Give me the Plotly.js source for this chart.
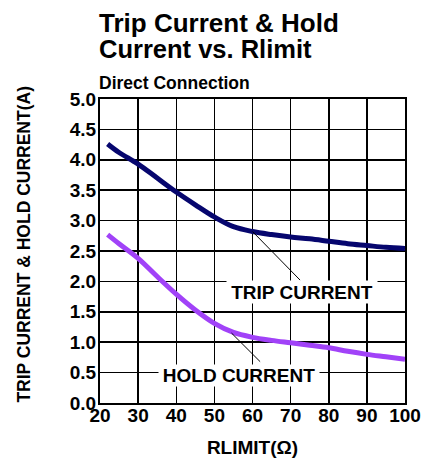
<!DOCTYPE html>
<html><head><meta charset="utf-8">
<script src="https://cdn.plot.ly/plotly-3.0.1.min.js"></script>
<style>body{margin:0;background:#fff}#c{width:422px;height:458px}</style>
</head><body><div id="c"></div>
<script>
const rlimit = [22, 25, 30, 35, 40, 45, 50, 55, 60, 65, 70, 75, 80, 85, 90, 95, 100];
const tripCurrent = [4.26, 4.12, 3.93, 3.70, 3.47, 3.26, 3.06, 2.90, 2.82, 2.77, 2.73, 2.70, 2.66, 2.62, 2.59, 2.56, 2.54];
const holdRlimit = [22, 25, 30, 35, 40, 45, 50, 55, 60, 65, 70, 75, 80, 85, 90, 95, 100];
const holdCurrent = [2.77, 2.62, 2.38, 2.08, 1.79, 1.53, 1.31, 1.16, 1.08, 1.03, 0.99, 0.95, 0.91, 0.85, 0.80, 0.76, 0.72];
const xTicks = [20, 30, 40, 50, 60, 70, 80, 90, 100];
const yTicks = [0.0, 0.5, 1.0, 1.5, 2.0, 2.5, 3.0, 3.5, 4.0, 4.5, 5.0];

const F = "Arial, 'Liberation Sans', sans-serif";
const bold = (s) => ({family: F, size: s, color: '#000', weight: 'bold'});
const traces = [
  {x: rlimit, y: tripCurrent, mode: 'lines', line: {color: '#06066e', width: 5, shape: 'spline'}, name: 'TRIP CURRENT'},
  {x: holdRlimit, y: holdCurrent, mode: 'lines', line: {color: '#a142f8', width: 5, shape: 'spline'}, name: 'HOLD CURRENT'}
];
const axisCommon = {
  showline: true, linecolor: '#000', linewidth: 2, mirror: true,
  showgrid: true, gridcolor: '#000', gridwidth: 1.5, zeroline: false,
  ticks: '', tickfont: bold(19)
};
const layout = {
  width: 422, height: 458,
  margin: {l: 100, r: 17, t: 99, b: 55},
  paper_bgcolor: '#fff', plot_bgcolor: '#fff',
  showlegend: false,
  xaxis: Object.assign({}, axisCommon, {range: [20, 100], tickvals: xTicks, ticktext: xTicks.map(String),
          ticklabelstandoff: -6,
          title: {text: 'RLIMIT(Ω)', font: bold(19), standoff: 17}}),
  yaxis: Object.assign({}, axisCommon, {range: [0, 5], tickvals: yTicks, ticktext: yTicks.map(v => v.toFixed(1)),
          ticklabelstandoff: -2}),
  shapes: [
    {type: 'line', xref: 'x', yref: 'y', x0: 60, y0: 2.82, x1: 72.5, y1: 2.02, line: {color: '#000', width: 1}},
    {type: 'line', xref: 'x', yref: 'y', x0: 54.5, y0: 1.15, x1: 62, y1: 0.68, line: {color: '#000', width: 1}}
  ],
  annotations: [
    {text: 'Trip Current & Hold', xref: 'paper', yref: 'paper', x: 0, y: 1.249, xanchor: 'left', yanchor: 'middle',
     xshift: -3, showarrow: false, font: bold(26)},
    {text: 'Current vs. Rlimit', xref: 'paper', yref: 'paper', x: 0, y: 1.164, xanchor: 'left', yanchor: 'middle',
     xshift: -3, showarrow: false, font: bold(25.5)},
    {text: 'Direct Connection', xref: 'paper', yref: 'paper', x: 0, y: 1.052, xanchor: 'left', yanchor: 'middle',
     xshift: -3, showarrow: false, font: bold(17.5)},
    {text: 'TRIP CURRENT & HOLD CURRENT(A)', xref: 'paper', yref: 'paper', x: 0, y: 0.521, xanchor: 'center', yanchor: 'middle',
     xshift: -76, textangle: -90, showarrow: false, font: bold(17.5)},
    {text: 'TRIP CURRENT', xref: 'x', yref: 'y', x: 73.1, y: 1.83, showarrow: false, bgcolor: '#fff', borderpad: 0,
     width: 150, height: 22, font: bold(19)},
    {text: 'HOLD CURRENT', xref: 'x', yref: 'y', x: 56.5, y: 0.45, showarrow: false, bgcolor: '#fff', borderpad: 0,
     width: 160, height: 21, font: bold(19)}
  ]
};
Plotly.newPlot('c', traces, layout, {staticPlot: true, displayModeBar: false});
</script></body></html>
